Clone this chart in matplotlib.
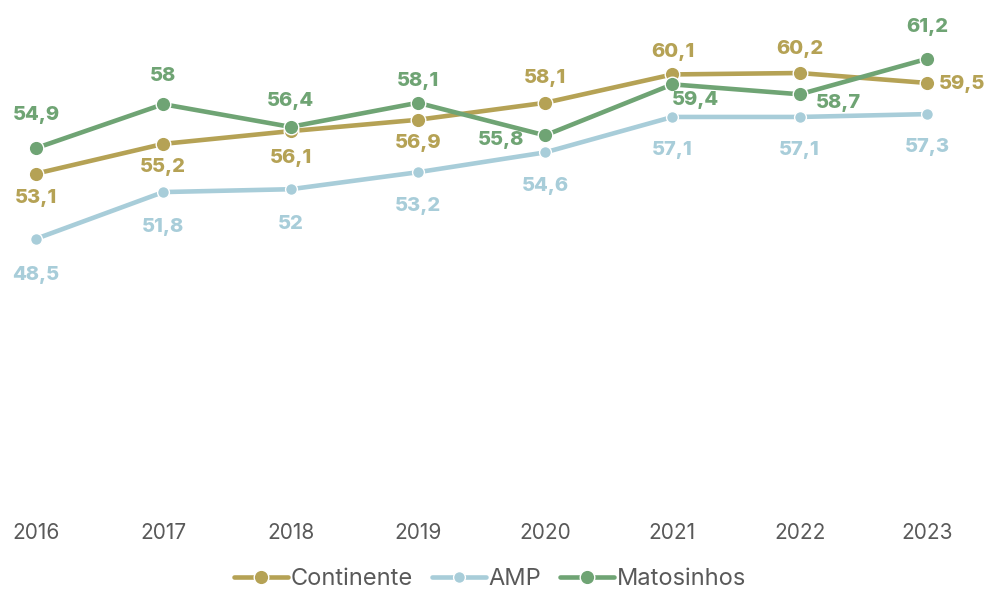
import matplotlib
matplotlib.use("Agg")
import matplotlib.pyplot as plt

plt.rcParams['font.family'] = ['Inter', 'DejaVu Sans']

years = ['2016', '2017', '2018', '2019', '2020', '2021', '2022', '2023']
continente = [53.1, 55.2, 56.1, 56.9, 58.1, 60.1, 60.2, 59.5]
amp = [48.5, 51.8, 52.0, 53.2, 54.6, 57.1, 57.1, 57.3]
matosinhos = [54.9, 58.0, 56.4, 58.1, 55.8, 59.4, 58.7, 61.2]

c_cont = '#B5A255'
c_amp = '#A8CDD9'
c_mat = '#6FA474'

fig = plt.figure(figsize=(9.87, 5.9), dpi=100)
ax = fig.add_axes([0, 89/590, 1, 496/590])
x = list(range(len(years)))

def fmt(v):
    s = ('%.1f' % v)
    if s.endswith('.0'):
        s = s[:-2]
    return s.replace('.', ',')

series = [
    ('Continente', continente, c_cont, 10.5,
     [(0, -17.5), (0, -17), (0, -19), (0, -17), (0, 18), (0, 16), (0, 17.5), (25, -0.5)]),
    ('AMP', amp, c_amp, 8.5,
     [(0, -26), (0, -25), (0, -25), (0, -24.5), (0, -24.5), (0, -24), (0, -24), (0, -24)]),
    ('Matosinhos', matosinhos, c_mat, 10.5,
     [(0, 24), (0, 20), (0, 18.5), (0, 16), (-32, -3.5), (16.5, -11.5), (28, -6), (0, 23)]),
]

for name, vals, col, ms, offs in series:
    ax.plot(x, vals, color=col, lw=3.3, marker='o', ms=ms,
            markeredgecolor='white', markeredgewidth=1.0, label=name,
            solid_capstyle='round', zorder=3)
    for xi, v, (dx, dy) in zip(x, vals, offs):
        ax.annotate(fmt(v), (xi, v), xytext=(dx, dy), textcoords='offset points',
                    ha='center', va='center', fontsize=14.5, fontweight='heavy',
                    color=col, zorder=4)

ax.set_xlim(-36/127.3, 7 + 60/127.3)
ax.set_ylim(30, 65)
ax.set_yticks([])
ax.set_xticks(x)
ax.set_xticklabels(years, fontsize=15, color='#595959')
ax.tick_params(axis='x', length=0, pad=16)
for s in ax.spines.values():
    s.set_visible(False)
ax.patch.set_alpha(0)

leg = fig.legend(loc='center', bbox_to_anchor=(490/987, 1 - 579/590), ncol=3,
                 frameon=False, fontsize=17, handlelength=2.3, columnspacing=0.8,
                 handletextpad=0.1, labelcolor='#595959')

fig.savefig('out.png', dpi=100)
